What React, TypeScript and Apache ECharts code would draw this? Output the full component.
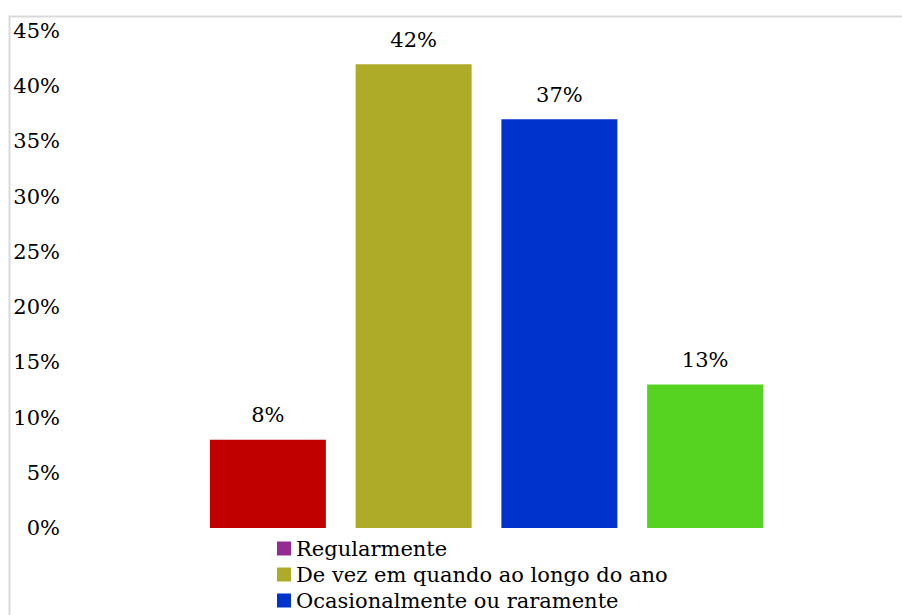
import React, { useEffect, useRef } from "react";
import * as echarts from "echarts";

const categories = ["Regularmente", "De vez em quando ao longo do ano", "Ocasionalmente ou raramente", "Nunca"];
const values = [8, 42, 37, 13];
const barColors = ["#C00000", "#ADAB27", "#0033CC", "#55D320"];
const legendColors = ["#962A94", "#ADAB27", "#0033CC", "#55D320"];
const legendNames = ["Regularmente", "De vez em quando ao longo do ano", "Ocasionalmente ou raramente"];
const yTicks = { min: 0, max: 45, interval: 5 };

export default function App() {
  const ref = useRef<HTMLDivElement>(null);
  useEffect(() => {
    if (!ref.current) return;
    const chart = echarts.init(ref.current, null, { renderer: "svg" });
    const font = "DejaVu Serif";
    const fs = 21;
    const series = categories.map((name, i) => ({
      name,
      type: "bar",
      stack: "all",
      barWidth: 116,
      itemStyle: { color: legendColors[i] },
      label: {
        show: true,
        position: "top",
        distance: 14,
        formatter: (p: any) => p.value + "%",
        color: "#000",
        fontFamily: font,
        fontSize: fs,
      },
      data: categories.map((_, j) =>
        j === i ? { value: values[i], itemStyle: { color: barColors[i] } } : null
      ),
    }));
    chart.setOption({
      animation: false,
      backgroundColor: "#fff",
      textStyle: { fontFamily: font },
      graphic: [
        {
          type: "rect",
          shape: { x: 9.5, y: 16.5, width: 1200, height: 1200 },
          style: { fill: "none", stroke: "#d9d9d9", lineWidth: 2 },
          silent: true,
        },
      ],
      grid: { left: 195, right: 124, top: 31, bottom: 87 },
      xAxis: {
        type: "category",
        data: categories,
        axisLine: { show: false },
        axisTick: { show: false },
        axisLabel: { show: false },
      },
      yAxis: {
        type: "value",
        min: yTicks.min,
        max: yTicks.max,
        interval: yTicks.interval,
        splitLine: { show: false },
        axisLine: { show: false },
        axisTick: { show: false },
        axisLabel: {
          formatter: "{value}%",
          margin: 135,
          color: "#000",
          fontFamily: font,
          fontSize: fs,
        },
      },
      legend: {
        data: legendNames,
        orient: "vertical",
        left: 272,
        top: 533,
        height: 300,
        itemWidth: 14,
        itemHeight: 14,
        itemGap: 5,
        icon: "rect",
        textStyle: { color: "#000", fontFamily: font, fontSize: fs },
      },
      series,
    });
    return () => chart.dispose();
  }, []);
  return (
    <div
      ref={ref}
      style={{ position: "absolute", left: 0, top: 0, width: 902, height: 615 }}
    />
  );
}
